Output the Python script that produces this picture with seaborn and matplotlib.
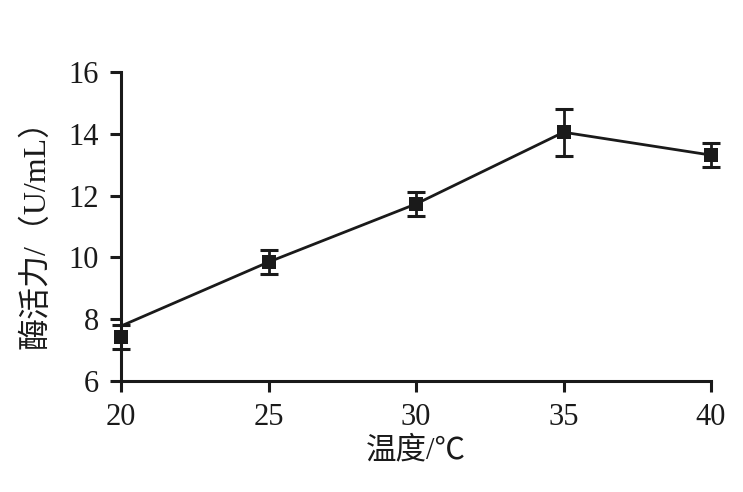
import matplotlib
matplotlib.use('Agg')
import matplotlib.pyplot as plt
import pandas as pd
import seaborn as sns

# values
temperature = [20, 25, 30, 35, 40]
activity = [7.42, 9.85, 11.73, 14.05, 13.31]
activity_err = [0.40, 0.40, 0.39, 0.76, 0.40]
# the connecting line starts at the top of the first error bar in the original
line_values = [7.78, 9.85, 11.73, 14.05, 13.31]

x_ticks = [20, 25, 30, 35, 40]
y_ticks = [6, 8, 10, 12, 14, 16]

df = pd.DataFrame({'temp': temperature, 'act': activity, 'err': activity_err, 'line': line_values})

sns.set_style('ticks')
plt.rcParams['font.family'] = ['Liberation Serif', 'Noto Sans CJK SC']
plt.rcParams['axes.unicode_minus'] = False

fig = plt.figure(figsize=(7.43, 4.92), dpi=100)
ax = fig.add_axes([0.163, 0.2256, 0.957 - 0.163, 0.8537 - 0.2256])

ink = '#1a1a1a'
sns.lineplot(data=df, x='temp', y='line', color=ink, linewidth=2.0, ax=ax, clip_on=False)
ax.errorbar(df['temp'], df['act'], yerr=df['err'], fmt='none', ecolor=ink,
            elinewidth=2.0, capsize=6.5, capthick=2.2, clip_on=False, zorder=3)
sns.scatterplot(data=df, x='temp', y='act', marker='s', s=115, color=ink,
                edgecolor=ink, linewidth=0, ax=ax, clip_on=False, zorder=4)

ax.set_xlim(20, 40)
ax.set_ylim(6, 16)
ax.set_xticks(x_ticks)
ax.set_yticks(y_ticks)
sns.despine(ax=ax)
for side in ['left', 'bottom']:
    ax.spines[side].set_color(ink)
    ax.spines[side].set_linewidth(2.2)
ax.tick_params(axis='both', direction='out', length=8, width=2.2, color=ink,
               labelsize=22, labelcolor=ink, pad=8)

ax.set_xlabel('温度/℃', fontsize=22, color=ink, labelpad=3)
ax.set_ylabel('酶活力/（U/mL）', fontsize=23, color=ink, labelpad=12)

fig.savefig('out.png', dpi=100)
